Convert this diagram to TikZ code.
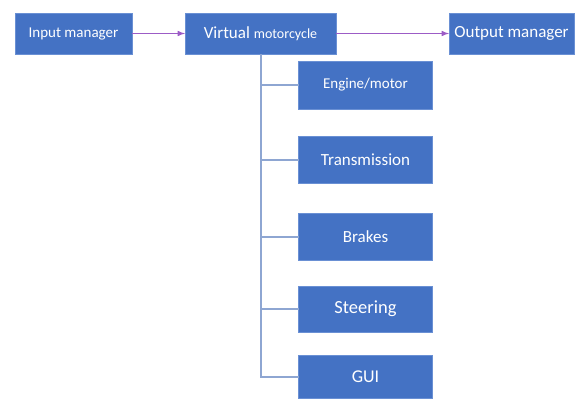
\documentclass[tikz,border=0pt]{standalone}
\usepackage{fontspec}
\setmainfont{Carlito}
\usepackage{tikz}
\usetikzlibrary{calc}
\definecolor{boxblue}{HTML}{4472C4}
\definecolor{boxedge}{HTML}{6A90D4}
\definecolor{treeline}{HTML}{8EA6D2}
\definecolor{flowpurple}{HTML}{9C5CC6}
\newcommand{\fs}[1]{\fontsize{#1}{#1}\selectfont}
\tikzset{
	block/.style={draw=boxedge, fill=boxblue, text=white, inner sep=0, outer sep=0},
	flow/.style={-latex, draw=flowpurple, line width=1.5pt},
	tree/.style={draw=treeline, line width=2pt}
}

\begin{document}
\begin{tikzpicture}[x=1pt, y=-1pt]
		\useasboundingbox (0,0) rectangle (578,407);
		\node[block, minimum width=117pt, minimum height=41pt] (In) at (73.5,33.5) {\fs{15}Input manager};
		\node[block, minimum width=151pt, minimum height=41pt] (VM) at (260.5,33.5) {\fs{17}Virtual \fs{14}motorcycle};
		\node[block, minimum width=125pt, minimum height=41pt] (Out) at (511.5,33.5) {\fs{17}Output manager};
		\draw[flow] (In) -- (VM);
		\draw[flow] (VM) -- (Out);
		\node[block, minimum width=134pt, minimum height=48pt] (Eng) at (365.5,85) {\fs{15}Engine/motor};
		\node[block, minimum width=134pt, minimum height=47pt] (Tra) at (365.5,159.5) {\fs{17}Transmission};
		\node[block, minimum width=134pt, minimum height=47pt] (Bra) at (365.5,236.5) {\fs{17}Brakes};
		\node[block, minimum width=134pt, minimum height=46pt] (Ste) at (365.5,309) {\fs{18.5}Steering};
		\node[block, minimum width=134pt, minimum height=43pt] (GUI) at (365.5,376.5) {\fs{18}GUI};
		\coordinate (T) at (261,54);
		\draw[tree] (T) |- (GUI.west);
		\draw[tree] (T |- Eng.west) -- (Eng.west);
		\draw[tree] (T |- Tra.west) -- (Tra.west);
		\draw[tree] (T |- Bra.west) -- (Bra.west);
		\draw[tree] (T |- Ste.west) -- (Ste.west);
	\end{tikzpicture}
\end{document}
